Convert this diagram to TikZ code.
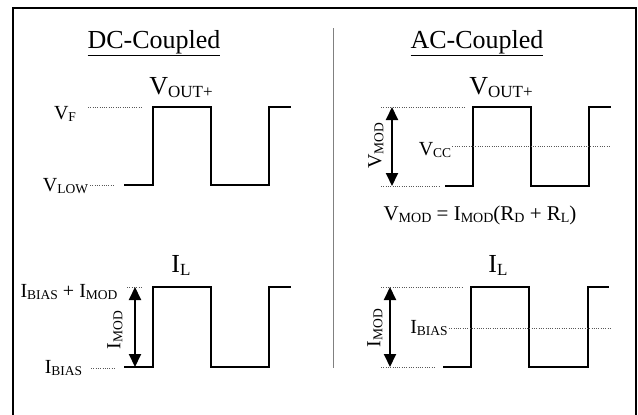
\documentclass[tikz,border=0pt]{standalone}
\usepackage{fontspec}
\setmainfont{Liberation Serif}
\usetikzlibrary{arrows.meta}
\newcommand\bigtxt{\fontsize{26}{30}\selectfont}
\newcommand\lbltxt{\fontsize{20}{24}\selectfont}
\newcommand\eqtxt{\fontsize{21}{25}\selectfont}
\newcommand\bsub[1]{\raisebox{-3pt}{\fontsize{17}{17}\selectfont #1}}
\newcommand\lsub[1]{\raisebox{-2pt}{\fontsize{13.5}{14}\selectfont #1}}
\newcommand\esub[1]{\raisebox{-2pt}{\fontsize{14}{15}\selectfont #1}}
\begin{document}
\begin{tikzpicture}[x=1pt,y=-1pt,
  wave/.style={line width=2pt,line join=miter},
  dots/.style={draw=black!65,line width=1pt,dash pattern=on 1pt off 1.3pt},
  span/.style={line width=2pt,{Triangle[width=12pt,length=13pt]}-{Triangle[width=12pt,length=13pt]}},
  title/.style={font=\bigtxt,inner sep=0pt,anchor=base},
  big/.style={font=\bigtxt,inner sep=0pt,anchor=base},
  lbl/.style={font=\lbltxt,inner sep=0pt,anchor=base},
  rlbl/.style={font=\lbltxt,inner sep=0pt,rotate=90}]
\clip (0,0) rectangle (638,415);
\fill[white] (0,0) rectangle (638,415);
% frame and separator
\draw[line width=2pt] (13,460) -- (13,8) -- (636,8) -- (636,460);
\coordinate (septop) at (333.5,28);
\coordinate (sepbot) at (333.5,368);
\draw[black!50,line width=1.5pt] (septop) -- (sepbot);
% titles
\node[title] (dct) at (154,48) {\underline{DC-Coupled}};
\node[title] (act) at (477,48) {\underline{AC-Coupled}};
% ---------- DC top
\node[big] (dcv) at (181,94) {V\bsub{OUT+}};
\draw[wave] (124,185) -- (153,185) -- (153,107) -- (211,107) -- (211,185) -- (269,185) -- (269,107) -- (291,107);
\node[lbl] (vf) at (65,119) {V\lsub{F}};
\node[lbl] (vlow) at (65.5,191) {V\lsub{LOW}};
\coordinate (vfa) at (88,107); \coordinate (vfb) at (143,107);
\coordinate (vla) at (90,185); \coordinate (vlb) at (115,185);
\draw[dots] (vfa) -- (vfb);
\draw[dots] (vla) -- (vlb);
% ---------- AC top
\node[big] (acv) at (501,94) {V\bsub{OUT+}};
\draw[wave] (445,186) -- (473,186) -- (473,107) -- (531,107) -- (531,186) -- (589,186) -- (589,107) -- (611,107);
\coordinate (at1) at (381,107); \coordinate (at2) at (465,107);
\coordinate (ab1) at (381,186); \coordinate (ab2) at (440,186);
\node[lbl] (vcc) at (435,155) {V\lsub{CC}};
\coordinate (vcce) at (611,146);
\draw[dots] (at1) -- (at2);
\draw[dots] (ab1) -- (ab2);
\draw[dots] (vcc.east |- vcce) ++(1,0) -- (vcce);
\coordinate (vmt) at (392,107); \coordinate (vmb) at (392,186);
\draw[span] (vmt) -- (vmb);
\node[rlbl] (vmod) at (376,146) {V\lsub{MOD}};
\node[font=\eqtxt,inner sep=0pt,anchor=base] (eq) at (480,220) {V\esub{MOD} = I\esub{MOD}(R\esub{D} + R\esub{L})};
% ---------- DC bottom
\node[big] (dci) at (181,272) {I\bsub{L}};
\draw[wave] (124,367) -- (153,367) -- (153,287) -- (211,287) -- (211,367) -- (269,367) -- (269,287) -- (291,287);
\node[lbl] (ibm) at (69,297) {I\lsub{BIAS} + I\lsub{MOD}};
\node[lbl] (ib) at (63.5,373) {I\lsub{BIAS}};
\coordinate (d1) at (127,287); \coordinate (d2) at (142,287);
\coordinate (d3) at (91,368); \coordinate (d4) at (115,368);
\draw[dots] (d1) -- (d2);
\draw[dots] (d3) -- (d4);
\coordinate (imt) at (135,287); \coordinate (imb) at (135,367);
\draw[span] (imt) -- (imb);
\node[rlbl] (imod) at (115,330) {I\lsub{MOD}};
% ---------- AC bottom
\node[big] (aci) at (498,272) {I\bsub{L}};
\draw[wave] (443,367) -- (471,367) -- (471,287) -- (529,287) -- (529,367) -- (588,367) -- (588,287) -- (609,287);
\coordinate (e1) at (381,287); \coordinate (e2) at (463,287);
\coordinate (e3) at (381,367); \coordinate (e4) at (436,367);
\draw[dots] (e1) -- (e2);
\draw[dots] (e3) -- (e4);
\node[lbl] (ib2) at (429,333) {I\lsub{BIAS}};
\coordinate (ibe) at (611,328);
\draw[dots] (ib2.east |- ibe) ++(1,0) -- (ibe);
\coordinate (jmt) at (390,287); \coordinate (jmb) at (390,367);
\draw[span] (jmt) -- (jmb);
\node[rlbl] (imod2) at (375,328) {I\lsub{MOD}};
\end{tikzpicture}
\end{document}
